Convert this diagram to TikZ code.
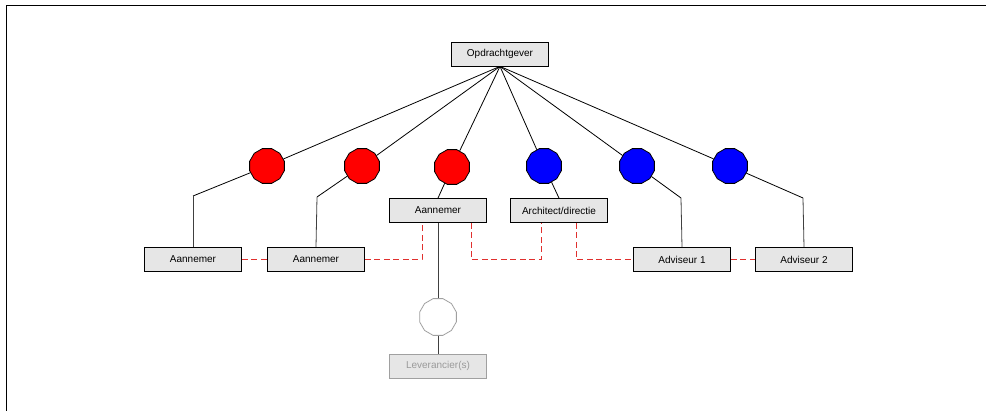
\documentclass[tikz,border=0pt]{standalone}
\usepackage{fontspec}
\setmainfont{Liberation Sans}
\usetikzlibrary{shapes.geometric}
\begin{document}
\begin{tikzpicture}[x=1pt,y=-1pt,
  box/.style={draw=black,line width=0.8pt,fill=boxgray,minimum width=97pt,minimum height=24pt,inner sep=0pt,font=\fontsize{10}{12}\selectfont},
  greybox/.style={box,draw=midgray,text=lightgray2},
  role/.style={regular polygon,regular polygon sides=12,minimum size=36pt,inner sep=0pt,draw=black,line width=0.8pt},
  link/.style={draw=black,line width=0.8pt},
  glink/.style={draw=darkgray2,line width=0.8pt},
  dlink/.style={draw=dashred,line width=0.8pt,dash pattern=on 6pt off 3.5pt}
]
\definecolor{boxgray}{HTML}{E6E6E6}
\definecolor{midgray}{HTML}{A0A0A0}
\definecolor{lightgray2}{HTML}{9A9A9A}
\definecolor{darkgray2}{HTML}{404040}
\definecolor{dashred}{HTML}{E0302E}
\definecolor{myred}{HTML}{FF0000}
\definecolor{myblue}{HTML}{0000FF}
\useasboundingbox (0,0) rectangle (986,411);
\draw[line width=1pt] (6,411) -- (6,6) -- (986,6);

\node[box] (opdr) at (500,54) {Opdrachtgever};

\node[role,fill=myred] (c1) at (267,166) {};
\node[role,fill=myred] (c2) at (362,166) {};
\node[role,fill=myred] (c3) at (452,167) {};
\node[role,fill=myblue] (c4) at (544,166) {};
\node[role,fill=myblue] (c5) at (637,166) {};
\node[role,fill=myblue] (c6) at (730,166) {};

\node[box] (aan1) at (193,259.5) {Aannemer};
\node[box] (aan2) at (316,259.5) {Aannemer};
\node[box] (aan3) at (438,210.5) {Aannemer};
\node[box] (arch) at (559,210.5) {Architect/directie};
\node[box] (adv1) at (682,259.5) {Adviseur 1};
\node[box] (adv2) at (804,259.5) {Adviseur 2};

\node[role,draw=midgray,fill=white,minimum size=38pt] (lh) at (438,317) {};
\node[greybox] (lev) at (438,366) {Leverancier(s)};

\coordinate (b1) at (193,196);
\coordinate (b2) at (317,197);
\coordinate (b5) at (681,198);
\coordinate (b6) at (803,198);

\foreach \c in {c1,c2,c3,c4,c5,c6} \draw[link] (opdr.south) -- (\c);

\draw[link] (c1) -- (b1);
\draw[glink] (b1) -- (aan1.north);
\draw[link] (c2) -- (b2);
\draw[glink] (b2) -- (aan2.north);
\draw[link] (c3) -- (aan3.north);
\draw[link] (c4) -- (arch.north);
\draw[link] (c5) -- (b5);
\draw[glink] (b5) -- (adv1.north);
\draw[link] (c6) -- (b6);
\draw[glink] (b6) -- (adv2.north);

\draw[glink] (aan3.south) -- (lh);
\draw[glink] (lh) -- (lev.north);

\coordinate (d1) at (422,259.5);
\coordinate (d2) at (471,259.5);
\coordinate (d3) at (541,259.5);
\coordinate (d4) at (576,259.5);
\draw[dlink] (aan1.east) -- (aan2.west);
\draw[dlink] (aan2.east) -- (d1) -- (d1 |- aan3.south);
\draw[dlink] (d2 |- aan3.south) -- (d2) -- (d3) -- (d3 |- arch.south);
\draw[dlink] (d4 |- arch.south) -- (d4) -- (adv1.west);
\draw[dlink] (adv1.east) -- (adv2.west);
\end{tikzpicture}
\end{document}
